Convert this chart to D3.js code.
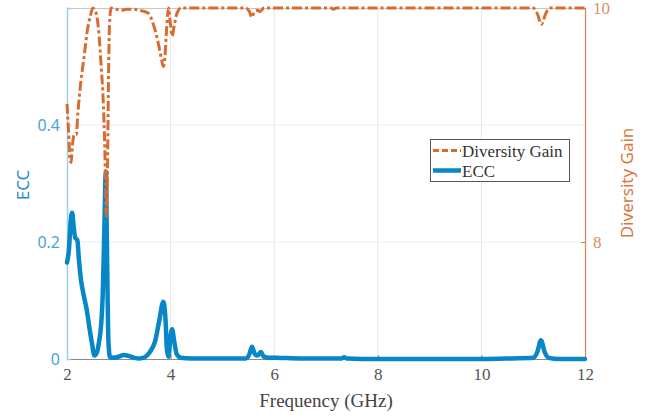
<!DOCTYPE html>
<html>
<head>
<meta charset="utf-8">
<script src="https://cdn.jsdelivr.net/npm/d3@7"></script>
<style>
  html, body { margin: 0; padding: 0; background: #fff; }
  svg { display: block; }
</style>
</head>
<body>
<svg id="chart" width="652" height="419"></svg>
<script>
// Envelope correlation coefficient (left axis)
const eccFreq = [2.00, 2.04, 2.07, 2.10, 2.13, 2.16, 2.20, 2.23, 2.27, 2.32, 2.38, 2.43, 2.48, 2.53, 2.58, 2.62, 2.66, 2.69, 2.72, 2.75, 2.77, 2.80, 2.83, 2.90, 3.00, 3.10, 3.20, 3.30, 3.40, 3.50, 3.60, 3.70, 3.78, 3.86, 3.90, 3.93, 3.96, 4.00, 4.03, 4.07, 4.12, 4.20, 4.40, 5.00, 5.45, 5.52, 5.57, 5.63, 5.68, 5.74, 5.80, 5.90, 6.00, 6.50, 7.30, 7.35, 7.40, 8.00, 9.00, 10.00, 10.60, 11.00, 11.08, 11.15, 11.22, 11.30, 11.50, 12.00];
const eccValues = [0.165, 0.19, 0.235, 0.250, 0.225, 0.207, 0.203, 0.17, 0.135, 0.11, 0.085, 0.055, 0.028, 0.006, 0.012, 0.03, 0.06, 0.11, 0.22, 0.32, 0.20, 0.03, 0.003, 0.002, 0.004, 0.007, 0.005, 0.002, 0.001, 0.003, 0.012, 0.03, 0.065, 0.098, 0.07, 0.015, 0.004, 0.04, 0.051, 0.03, 0.008, 0.002, 0.001, 0.001, 0.001, 0.008, 0.021, 0.008, 0.006, 0.012, 0.004, 0.002, 0.002, 0.001, 0.001, 0.003, 0.001, 0.0, 0.0, 0.0, 0.001, 0.002, 0.012, 0.032, 0.012, 0.002, 0.0, 0.0];

// Diversity gain (right axis)
const dgFreq = [2.00, 2.03, 2.06, 2.08, 2.11, 2.14, 2.18, 2.21, 2.25, 2.29, 2.34, 2.39, 2.45, 2.50, 2.54, 2.58, 2.62, 2.66, 2.70, 2.73, 2.76, 2.78, 2.80, 2.82, 2.85, 2.95, 3.05, 3.15, 3.30, 3.40, 3.50, 3.58, 3.66, 3.72, 3.78, 3.83, 3.86, 3.89, 3.92, 3.96, 4.00, 4.03, 4.07, 4.12, 4.20, 5.45, 5.52, 5.57, 5.62, 5.68, 5.73, 5.80, 7.10, 7.14, 7.20, 11.00, 11.08, 11.16, 11.24, 11.32, 12.00];
const dgValues = [9.18, 8.95, 8.70, 8.68, 8.85, 8.92, 8.92, 9.10, 9.30, 9.45, 9.62, 9.80, 9.93, 10.0, 9.98, 9.92, 9.76, 9.50, 9.20, 8.80, 8.22, 8.55, 9.35, 9.85, 10.0, 9.99, 9.98, 9.99, 9.99, 9.98, 9.97, 9.95, 9.87, 9.78, 9.66, 9.55, 9.50, 9.58, 9.80, 10.0, 9.85, 9.76, 9.85, 9.95, 10.0, 10.0, 9.97, 9.92, 9.97, 9.98, 9.97, 10.0, 10.0, 9.99, 10.0, 10.0, 9.95, 9.86, 9.95, 10.0, 10.0];

const xTicks = [2, 4, 6, 8, 10, 12];
const eccTicks = [0, 0.2, 0.4];
const dgTicks = [8, 10];

const seriesNames = ["Diversity Gain", "ECC"];

const blue = "#0787c7";
const orange = "#d96b2e";

const svg = d3.select("#chart");
const plotLeft = 67, plotRight = 585, plotTop = 8, plotBottom = 359;

const x = d3.scaleLinear().domain([2, 12]).range([plotLeft, plotRight]);
const yL = d3.scaleLinear().domain([0, 0.6]).range([plotBottom, plotTop]);
const yR = d3.scaleLinear().domain([7, 10]).range([plotBottom, plotTop]);

// grid
const grid = svg.append("g");
grid.selectAll("line.gx").data(xTicks.slice(1, -1)).join("line")
  .attr("x1", d => x(d)).attr("x2", d => x(d))
  .attr("y1", plotTop).attr("y2", plotBottom)
  .attr("stroke", "#e6e6e6").attr("stroke-width", 1);
grid.selectAll("line.gy").data(eccTicks.slice(1)).join("line")
  .attr("x1", plotLeft).attr("x2", plotRight)
  .attr("y1", d => yL(d)).attr("y2", d => yL(d))
  .attr("stroke", "#e3edf4").attr("stroke-width", 1.2);

// frame
svg.append("line").attr("x1", plotLeft).attr("x2", plotRight).attr("y1", plotTop + 0.5).attr("y2", plotTop + 0.5)
  .attr("stroke", "#c8c8c8").attr("stroke-width", 1);

// bottom axis
const xAxis = svg.append("g").attr("transform", `translate(0,${plotBottom})`)
  .call(d3.axisBottom(x).tickValues(xTicks).tickSize(-4).tickPadding(12).tickFormat(d3.format("d")));
xAxis.select(".domain").attr("stroke", "#8a8a8a");
xAxis.selectAll(".tick line").attr("stroke", "#8a8a8a");
xAxis.selectAll("text").attr("font-family", "'Liberation Serif', serif").attr("font-size", 17)
  .attr("fill", "#555").attr("dy", "0.55em");

// left axis
const yAxisL = svg.append("g").attr("transform", `translate(${plotLeft},0)`)
  .call(d3.axisLeft(yL).tickValues(eccTicks).tickSize(-4).tickPadding(7).tickFormat(d => d === 0 ? "0" : d3.format(".1f")(d)));
yAxisL.select(".domain").attr("stroke", "#9ccfea").attr("stroke-width", 1.5);
yAxisL.selectAll(".tick line").attr("stroke", "#9ccfea");
yAxisL.selectAll("text").attr("font-family", "'Noto Sans', sans-serif").attr("font-size", 16)
  .attr("fill", "#4aa3d8");

// right axis
const yAxisR = svg.append("g").attr("transform", `translate(${plotRight},0)`)
  .call(d3.axisRight(yR).tickValues(dgTicks).tickSize(-4).tickPadding(8).tickFormat(d3.format("d")));
yAxisR.select(".domain").attr("stroke", "#d9824f").attr("stroke-width", 1.2);
yAxisR.selectAll(".tick line").attr("stroke", "#d9824f");
yAxisR.selectAll("text").attr("font-family", "'Liberation Serif', serif").attr("font-size", 17)
  .attr("fill", "#dd8f5e");

// axis titles
svg.append("text").attr("x", 326).attr("y", 407).attr("text-anchor", "middle")
  .attr("font-family", "'Liberation Serif', serif").attr("font-size", 19).attr("fill", "#444")
  .text("Frequency (GHz)");
svg.append("text").attr("transform", "translate(29,185) rotate(-90)").attr("text-anchor", "middle")
  .attr("font-family", "'Noto Sans', sans-serif").attr("font-size", 17).attr("fill", "#2a8dca")
  .text("ECC");
svg.append("text").attr("transform", "translate(633,183) rotate(-90)").attr("text-anchor", "middle")
  .attr("font-family", "'Noto Sans', sans-serif").attr("font-size", 17).attr("fill", "#d9763c")
  .text("Diversity Gain");

// series
const eccLine = d3.line().x((d, i) => x(eccFreq[i])).y(d => yL(d)).curve(d3.curveMonotoneX);
const dgLine = d3.line().x((d, i) => x(dgFreq[i])).y(d => yR(d)).curve(d3.curveMonotoneX);

svg.append("path").datum(eccValues).attr("d", eccLine)
  .attr("fill", "none").attr("stroke", blue).attr("stroke-width", 4.5)
  .attr("stroke-linejoin", "round").attr("stroke-linecap", "round");

svg.append("path").datum(dgValues).attr("d", dgLine)
  .attr("fill", "none").attr("stroke", orange).attr("stroke-width", 3)
  .attr("stroke-dasharray", "10,3,3,3");

// legend
const lg = svg.append("g");
lg.append("rect").attr("x", 430.5).attr("y", 139.5).attr("width", 139).attr("height", 42)
  .attr("fill", "#fff").attr("stroke", "#555").attr("stroke-width", 1);
const legendItems = [
  { name: seriesNames[0], color: orange, width: 3, dash: "6,3" },
  { name: seriesNames[1], color: blue, width: 4.5, dash: null }
];
legendItems.forEach((it, i) => {
  const cy = 150.5 + i * 20;
  lg.append("line").attr("x1", 433).attr("x2", 461).attr("y1", cy).attr("y2", cy)
    .attr("stroke", it.color).attr("stroke-width", it.width)
    .attr("stroke-dasharray", it.dash);
  lg.append("text").attr("x", 462).attr("y", cy + 6)
    .attr("font-family", "'Liberation Serif', serif").attr("font-size", 17).attr("fill", "#333")
    .text(it.name);
});
</script>
</body>
</html>
